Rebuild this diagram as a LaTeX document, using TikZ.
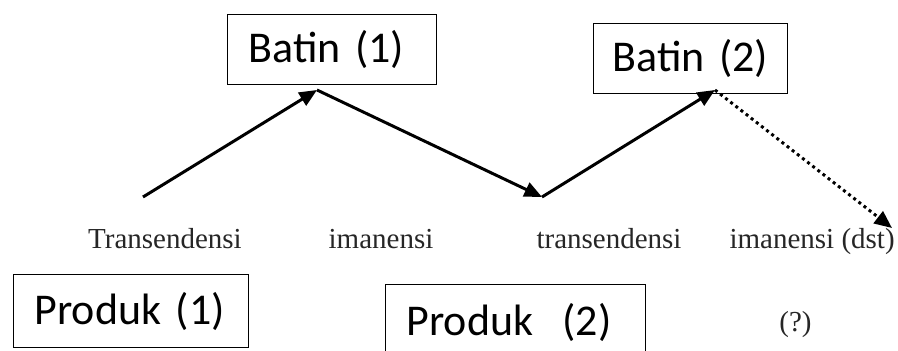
\documentclass[tikz,border=0pt]{standalone}
\usepackage{fontspec}
\setmainfont{Liberation Serif}
\newfontfamily\kalibri{Carlito}
\usetikzlibrary{arrows.meta}

\tikzset{
  kotak/.style={draw, line width=0.7pt, anchor=north west, align=left, inner xsep=0.42cm, inner ysep=0pt, font=\kalibri\fontsize{25}{29}\selectfont},
  tahap/.style={anchor=base, text=black!85, inner sep=0pt, font=\fontsize{16.5}{20}\selectfont},
  panah/.style={line width=1.7pt, -{Triangle[length=10pt, width=8.5pt]}},
}

\begin{document}
\begin{tikzpicture}[x=0.02cm, y=-0.02cm]
  \useasboundingbox (0,0) rectangle (898,351);
  \node[kotak, text width=3.34cm, minimum height=1.4cm] (batin1) at (227,14) {Batin (1)};
  \node[kotak, inner xsep=0.38cm, text width=3.12cm, minimum height=1.4cm] (batin2) at (593,23) {Batin (2)};
  \node[kotak, text width=3.86cm, minimum height=1.46cm] (produk1) at (13,274) {Produk (1)};
  \node[kotak, text width=4.36cm, minimum height=1.5cm] (produk2) at (385,284) {Produk~~(2)};
  \node[tahap] (trans1) at (165,248) {Transendensi};
  \node[tahap] (iman1) at (381,248) {imanensi};
  \node[tahap] (trans2) at (609,248) {transendensi};
  \node[tahap, anchor=base east] (iman2) at (895,248) {imanensi (dst)};
  \node[tahap, anchor=base west] (tanya) at (779,331) {(?)};
  \coordinate (awal) at (143,197);
  \coordinate (puncak1) at (317,90);
  \coordinate (lembah) at (542,197);
  \coordinate (puncak2) at (715,90);
  \coordinate (akhir) at (892,228);
  \draw[panah] (awal) -- (puncak1);
  \draw[panah] (puncak1) -- (lembah);
  \draw[panah] (lembah) -- (puncak2);
  \draw[panah, dotted] (puncak2) -- (akhir);
\end{tikzpicture}
\end{document}
